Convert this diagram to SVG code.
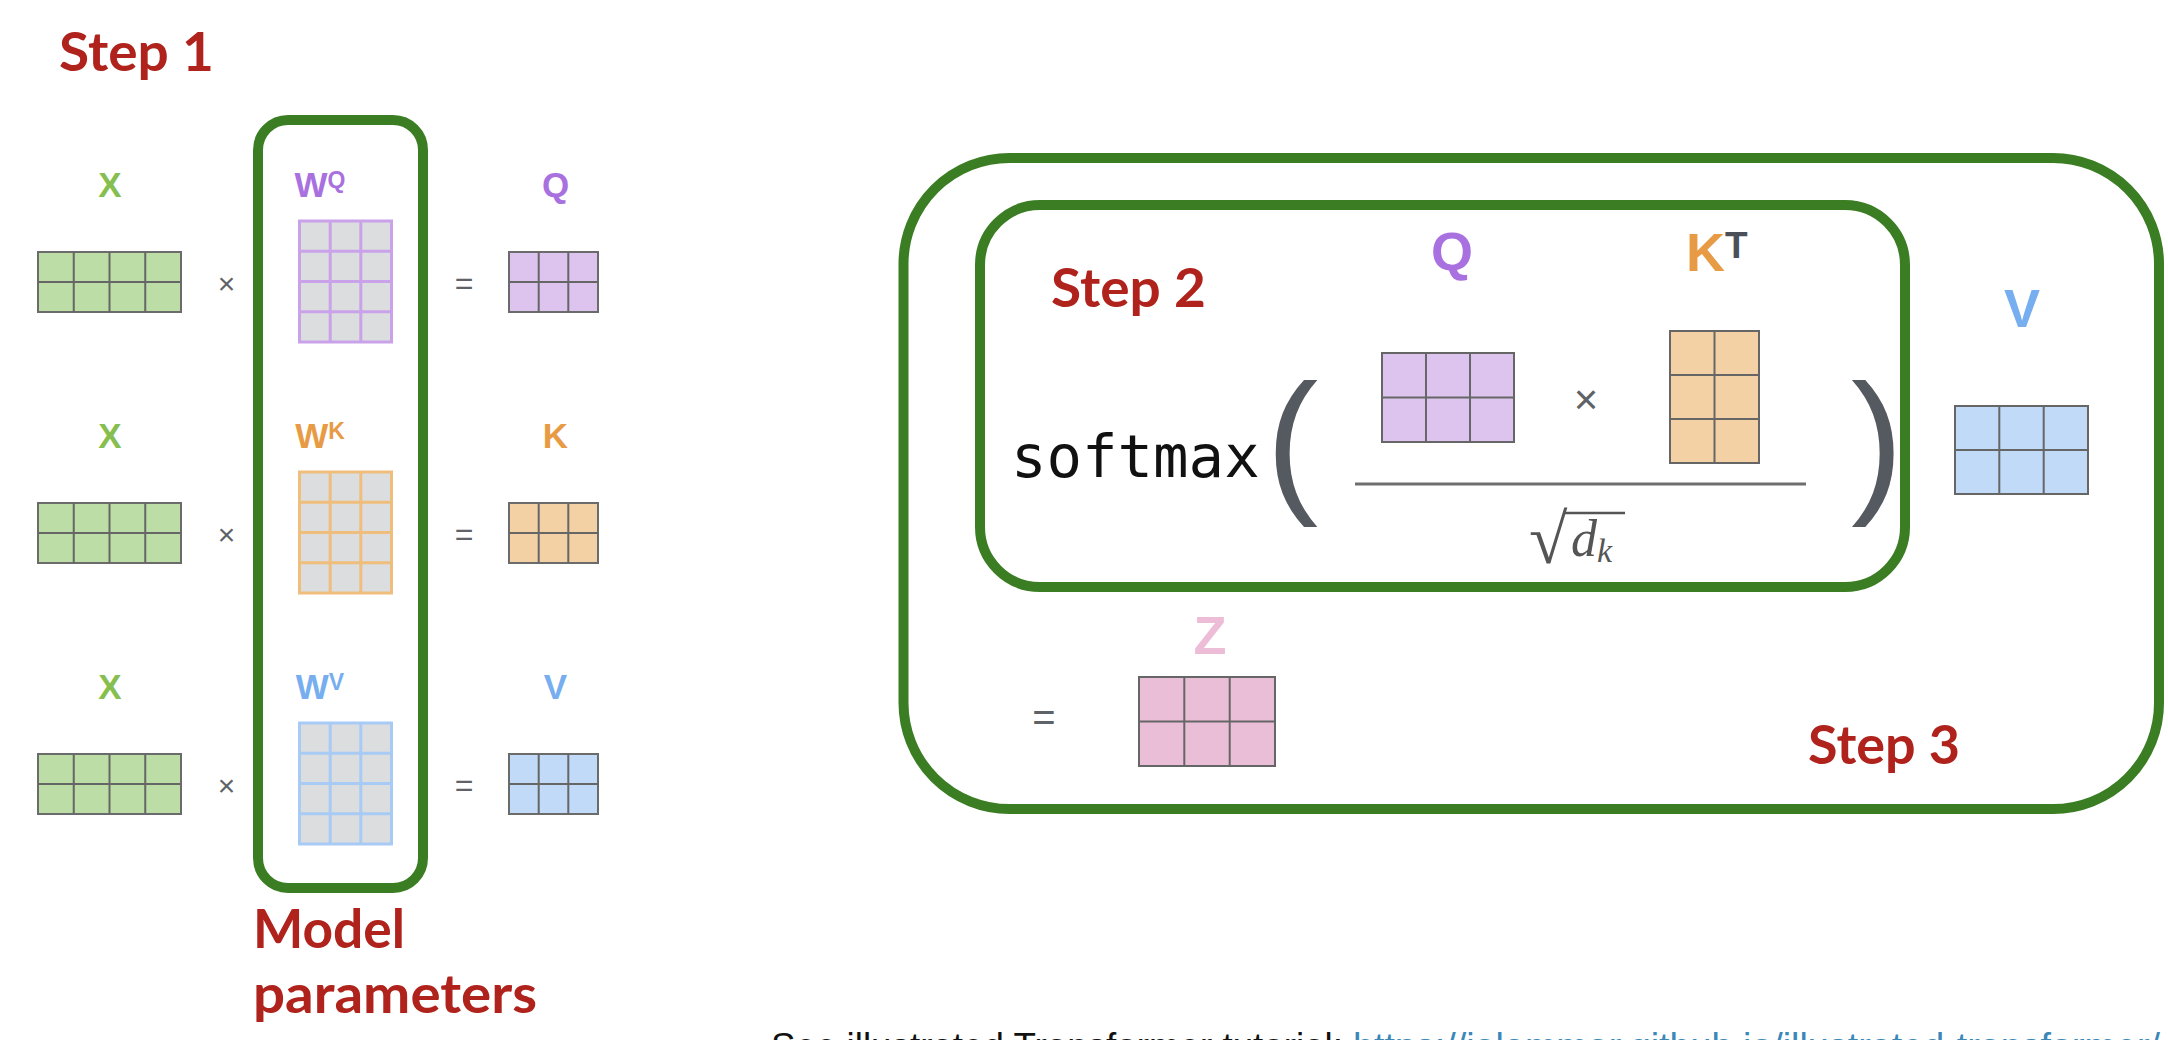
<svg xmlns="http://www.w3.org/2000/svg" width="2168" height="1040" viewBox="0 0 2168 1040">
<style>
.step{font-family:Lato,"Open Sans","Liberation Sans",sans-serif;font-weight:700;font-size:54px;fill:#af231c}
.lbl{font-family:"Liberation Sans",Arial,sans-serif;font-weight:700;font-size:35px;text-anchor:middle}
.big{font-family:"Liberation Sans",Arial,sans-serif;font-weight:700;font-size:54px;text-anchor:middle}
.op{font-family:"Liberation Sans",Arial,sans-serif;fill:#5f6368;text-anchor:middle}
.box{fill:none;stroke:#3a7d23;stroke-width:10}
.grid{stroke:#666;stroke-width:2;fill:none}
.paren{font-family:"Liberation Sans",Arial,sans-serif;font-size:157px;fill:#555a61}
</style>
<rect width="2168" height="1040" fill="#fff"/>

<g id="step1-title"><text class="step" x="59" y="71" textLength="155" lengthAdjust="spacingAndGlyphs">Step 1</text></g>

<g id="model-params">
<rect class="box" x="258" y="120" width="165" height="768" rx="30"/>
<text class="step" x="253" y="948" textLength="152" lengthAdjust="spacingAndGlyphs">Model</text>
<text class="step" x="253" y="1013" textLength="284" lengthAdjust="spacingAndGlyphs">parameters</text>
</g>

<!-- Row 1 -->
<g id="x1">
<text class="lbl" x="110" y="197" fill="#86bf50">X</text>
<rect x="38" y="252" width="143" height="60" fill="#bcdea6" stroke="#6b6b6b" stroke-width="2"/>
<path class="grid" d="M73.75 252V312M109.5 252V312M145.25 252V312M38 282H181"/>
</g>
<g id="op1"><text class="op" x="226.5" y="294" font-size="30">×</text><text class="op" x="464" y="294" font-size="32">=</text></g>
<g id="wq">
<text class="lbl" x="320" y="197" fill="#a970df" text-anchor="start">W<tspan font-size="23" dy="-9">Q</tspan></text>
<rect x="299.5" y="221" width="92" height="121" fill="#dcdddf" stroke="#c9a2ea" stroke-width="3"/>
<path d="M330.2 221V342M360.8 221V342M299.5 251.25H391.5M299.5 281.5H391.5M299.5 311.75H391.5" stroke="#c9a2ea" stroke-width="3"/>
</g>
<g id="q1">
<text class="lbl" x="555.5" y="197" fill="#a970df">Q</text>
<rect x="509" y="252" width="89" height="60" fill="#dcc4ef" stroke="#6b6b6b" stroke-width="2"/>
<path class="grid" d="M538.7 252V312M568.3 252V312M509 282H598"/>
</g>

<!-- Row 2 -->
<g id="x2">
<text class="lbl" x="110" y="448" fill="#86bf50">X</text>
<rect x="38" y="503" width="143" height="60" fill="#bcdea6" stroke="#6b6b6b" stroke-width="2"/>
<path class="grid" d="M73.75 503V563M109.5 503V563M145.25 503V563M38 533H181"/>
</g>
<g id="op2"><text class="op" x="226.5" y="545" font-size="30">×</text><text class="op" x="464" y="545" font-size="32">=</text></g>
<g id="wk">
<text class="lbl" x="320" y="448" fill="#e89b45" text-anchor="start">W<tspan font-size="23" dy="-9">K</tspan></text>
<rect x="299.5" y="472" width="92" height="121" fill="#dcdddf" stroke="#efbe7c" stroke-width="3"/>
<path d="M330.2 472V593M360.8 472V593M299.5 502.25H391.5M299.5 532.5H391.5M299.5 562.75H391.5" stroke="#efbe7c" stroke-width="3"/>
</g>
<g id="k1">
<text class="lbl" x="555.5" y="448" fill="#e89b45">K</text>
<rect x="509" y="503" width="89" height="60" fill="#f3d1a4" stroke="#6b6b6b" stroke-width="2"/>
<path class="grid" d="M538.7 503V563M568.3 503V563M509 533H598"/>
</g>

<!-- Row 3 -->
<g id="x3">
<text class="lbl" x="110" y="699" fill="#86bf50">X</text>
<rect x="38" y="754" width="143" height="60" fill="#bcdea6" stroke="#6b6b6b" stroke-width="2"/>
<path class="grid" d="M73.75 754V814M109.5 754V814M145.25 754V814M38 784H181"/>
</g>
<g id="op3"><text class="op" x="226.5" y="796" font-size="30">×</text><text class="op" x="464" y="796" font-size="32">=</text></g>
<g id="wv">
<text class="lbl" x="320" y="699" fill="#76aef0" text-anchor="start">W<tspan font-size="23" dy="-9">V</tspan></text>
<rect x="299.5" y="723" width="92" height="121" fill="#dcdddf" stroke="#a7cbf5" stroke-width="3"/>
<path d="M330.2 723V844M360.8 723V844M299.5 753.25H391.5M299.5 783.5H391.5M299.5 813.75H391.5" stroke="#a7cbf5" stroke-width="3"/>
</g>
<g id="v1">
<text class="lbl" x="555.5" y="699" fill="#76aef0">V</text>
<rect x="509" y="754" width="89" height="60" fill="#c0daf7" stroke="#6b6b6b" stroke-width="2"/>
<path class="grid" d="M538.7 754V814M568.3 754V814M509 784H598"/>
</g>

<!-- Step 3 outer box -->
<g id="step3">
<rect class="box" x="903.5" y="158" width="1255.5" height="651" rx="106"/>
<text class="step" x="1808" y="764" textLength="152" lengthAdjust="spacingAndGlyphs">Step 3</text>
</g>

<!-- Step 2 inner box -->
<g id="step2">
<rect class="box" x="980" y="205" width="925" height="382" rx="60"/>
<text class="step" x="1051" y="307" textLength="155" lengthAdjust="spacingAndGlyphs">Step 2</text>
</g>

<g id="softmax">
<text x="1011" y="477" font-family="DejaVu Sans Mono,monospace" font-size="59" fill="#111">softmax</text>
<text class="paren" x="1266" y="494">(</text>
<text class="paren" x="1851" y="494">)</text>
</g>

<g id="q2">
<text class="big" x="1452" y="270" fill="#a970df">Q</text>
<rect x="1382" y="353" width="132" height="89" fill="#dcc4ef" stroke="#666" stroke-width="2"/>
<path class="grid" d="M1426 353V442M1470 353V442M1382 397.5H1514"/>
</g>
<g id="times2"><text class="op" x="1586" y="414" font-size="42">×</text></g>
<g id="kt">
<text x="1686" y="271" font-family="Liberation Sans,Arial,sans-serif" font-weight="700" font-size="54" fill="#e89b45">K<tspan font-size="37" fill="#4b5058" dy="-13">T</tspan></text>
<rect x="1670" y="331" width="89" height="132" fill="#f3d1a4" stroke="#666" stroke-width="2"/>
<path class="grid" d="M1714.5 331V463M1670 375H1759M1670 419H1759"/>
</g>

<g id="fraction">
<line x1="1355" y1="484" x2="1806" y2="484" stroke="#6e6e6e" stroke-width="3"/>
<text x="1529" y="563" font-family="Liberation Serif,serif" font-size="70" fill="#555">√</text>
<line x1="1564" y1="513" x2="1625" y2="513" stroke="#555" stroke-width="2.5"/>
<text x="1571" y="556" font-family="Liberation Serif,serif" font-style="italic" font-size="52" fill="#555">d<tspan font-size="34" dy="6">k</tspan></text>
</g>

<g id="v2">
<text class="big" x="2022" y="327" fill="#76aef0">V</text>
<rect x="1955" y="406" width="133" height="88" fill="#c0daf7" stroke="#666" stroke-width="2"/>
<path class="grid" d="M1999.3 406V494M2043.7 406V494M1955 450H2088"/>
</g>

<g id="z">
<text class="op" x="1044" y="731" font-size="40">=</text>
<text class="big" x="1210" y="654" fill="#edbcd7">Z</text>
<rect x="1139" y="677" width="136" height="89" fill="#ebbed8" stroke="#666" stroke-width="2"/>
<path class="grid" d="M1184.3 677V766M1229.7 677V766M1139 721.5H1275"/>
</g>

<g id="caption">
<text x="771" y="1059" font-family="Liberation Sans,Arial,sans-serif" font-size="37" fill="#111" textLength="572" lengthAdjust="spacingAndGlyphs">See illustrated Transformer tutorial:</text>
<text x="1353" y="1059" font-family="Liberation Sans,Arial,sans-serif" font-size="37" fill="#3a87b8" textLength="807" lengthAdjust="spacingAndGlyphs">https://jalammar.github.io/illustrated-transformer/</text>
</g>
</svg>
